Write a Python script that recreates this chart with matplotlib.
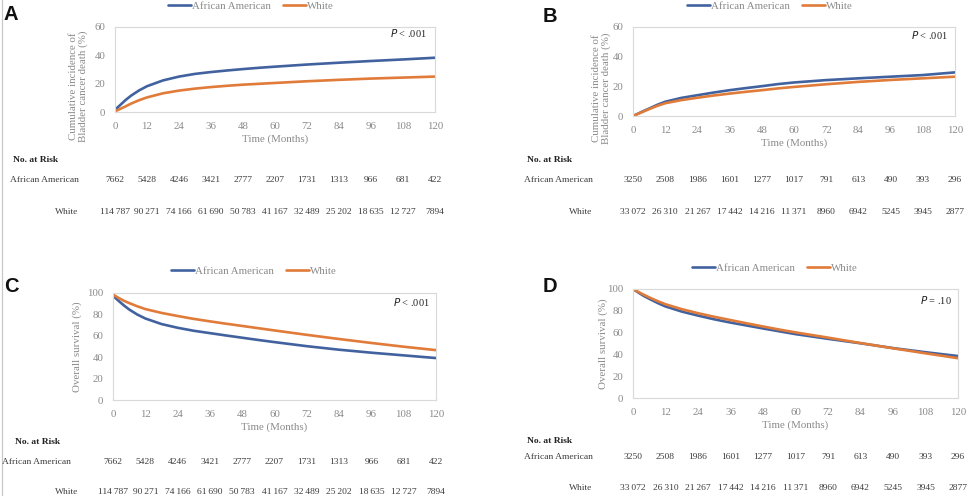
import matplotlib
matplotlib.use("Agg")
import matplotlib.pyplot as plt
from matplotlib.transforms import blended_transform_factory
from matplotlib.lines import Line2D

# ---------------- data ----------------
months = [0, 2, 4, 6, 9, 12, 18, 24, 30, 36, 42, 48, 54, 60, 72, 84, 96, 108, 120]

a_aa = [1.5, 5, 8.5, 11.5, 15.2, 18.2, 22.3, 25, 26.9, 28.2, 29.3, 30.3, 31.2, 32, 33.5, 34.8, 36, 37.1, 38.3]
a_wh = [0.5, 2.2, 4, 5.9, 8.3, 10.3, 13.2, 15.1, 16.5, 17.6, 18.5, 19.3, 19.9, 20.5, 21.7, 22.7, 23.6, 24.3, 25]

b_aa = [0, 1.7, 3.4, 5, 7.5, 9.6, 12.2, 14, 15.8, 17.4, 18.8, 20.1, 21.5, 22.6, 24.2, 25.4, 26.5, 27.6, 29.4]
b_wh = [0, 1.5, 3.1, 4.6, 6.8, 8.6, 10.7, 12.3, 13.8, 15.1, 16.3, 17.4, 18.6, 19.6, 21.4, 23, 24.3, 25.4, 26.5]

c_aa = [97.5, 92.8, 88.5, 84.6, 79.9, 76.2, 71, 67.5, 64.7, 62.5, 60.3, 58.2, 56.1, 54.1, 50.3, 47, 44.2, 41.7, 39.2]
c_wh = [98.5, 95.5, 92.8, 90.6, 87.6, 85, 81.4, 78.5, 75.8, 73.5, 71.3, 69.2, 67.1, 65, 60.9, 57, 53.3, 49.8, 46.6]

d_aa = [100, 96.7, 93.6, 91, 87.3, 84, 79.3, 75.6, 72.2, 69.2, 66.5, 63.8, 61.2, 58.6, 54.3, 50.2, 45.8, 42, 38.5]
d_wh = [100, 97.3, 94.7, 92.3, 89, 86, 81.5, 77.8, 74.5, 71.5, 68.5, 65.6, 62.8, 60.2, 55.4, 50.4, 45.6, 41, 36.5]

risk_months = [0, 12, 24, 36, 48, 60, 72, 84, 96, 108, 120]
risk_ac_aa = ["7662", "5428", "4246", "3421", "2777", "2207", "1731", "1313", "966", "681", "422"]
risk_ac_wh = ["114\u2009787", "90\u2009271", "74\u2009166", "61\u2009690", "50\u2009783", "41\u2009167",
              "32\u2009489", "25\u2009202", "18\u2009635", "12\u2009727", "7894"]
risk_bd_aa = ["3250", "2508", "1986", "1601", "1277", "1017", "791", "613", "490", "393", "296"]
risk_bd_wh = ["33\u2009072", "26\u2009310", "21\u2009267", "17\u2009442", "14\u2009216", "11\u2009371",
              "8960", "6942", "5245", "3945", "2877"]

series_names = ["African American", "White"]
p_texts = ["< .001", "< .001", "< .001", "= .10"]
panel_letters = ["A", "B", "C", "D"]
ylabel_cif = "Cumulative incidence of\nBladder cancer death (%)"
ylabel_os = "Overall survival (%)"
xlabel = "Time (Months)"

# ---------------- style ----------------
W, H = 967, 496
BLUE = "#41629F"
ORANGE = "#E07B39"
GRAY = "#8A8A8A"
DARK = "#3C3C3C"
SERIF = ["Liberation Serif", "DejaVu Serif"]
SANS = ["Liberation Sans", "DejaVu Sans"]

fig = plt.figure(figsize=(W / 100, H / 100), dpi=100)


def fx(x):
    return x / W


def fy(y):
    return 1 - y / H


def make_axes(left, right, top, bottom):
    return fig.add_axes([fx(left), fy(bottom), (right - left) / W, (bottom - top) / H])


panels = [
    dict(box=(115, 435, 27, 112), aa=a_aa, wh=a_wh, ymax=60, yt=[0, 20, 40, 60], ylabel=ylabel_cif,
         ylc=(-0.084, 0.30), ptx=(0.975, 0.93), letter=(4, 14), leg=(251, 6),
         risk=(risk_ac_aa, risk_ac_wh), nar=(13, 160), rows=(180, 212), lab_r=(79, 78)),
    dict(box=(633, 955, 27, 116), aa=b_aa, wh=b_wh, ymax=60, yt=[0, 20, 40, 60], ylabel=ylabel_cif,
         ylc=(-0.068, 0.31), ptx=(0.978, 0.91), letter=(543, 16), leg=(770, 6),
         risk=(risk_bd_aa, risk_bd_wh), nar=(527, 160), rows=(180, 212), lab_r=(593, 592)),
    dict(box=(113, 436, 293, 400), aa=c_aa, wh=c_wh, ymax=100, yt=[0, 20, 40, 60, 80, 100], ylabel=ylabel_os,
         ylc=(-0.096, 0.5), ptx=(0.981, 0.916), letter=(4, 286), leg=(254, 271),
         risk=(risk_ac_aa, risk_ac_wh), nar=(15, 442), rows=(462, 492), lab_r=(71, 78)),
    dict(box=(633, 958, 289, 398), aa=d_aa, wh=d_wh, ymax=100, yt=[0, 20, 40, 60, 80, 100], ylabel=ylabel_os,
         ylc=(-0.077, 0.5), ptx=(0.98, 0.90), letter=(543, 286), leg=(775, 268),
         risk=(risk_bd_aa, risk_bd_wh), nar=(527, 441), rows=(457, 488), lab_r=(593, 592)),
]

for i, p in enumerate(panels):
    ax = make_axes(*p["box"])
    l1, = ax.plot(months, p["aa"], color=BLUE, lw=1.9, solid_capstyle="round", solid_joinstyle="round")
    l2, = ax.plot(months, p["wh"], color=ORANGE, lw=1.9, solid_capstyle="round", solid_joinstyle="round")
    ax.set_xlim(0, 120)
    ax.set_ylim(0, p["ymax"])
    ax.set_xticks(risk_months)
    ax.set_yticks(p["yt"])
    for s in ax.spines.values():
        s.set_color("#D9D9D9")
        s.set_linewidth(0.8)
    ax.tick_params(length=0, labelsize=7.8, labelcolor=GRAY)
    ax.tick_params(axis="x", pad=7)
    ax.tick_params(axis="y", pad=7)
    for t in ax.get_xticklabels() + ax.get_yticklabels():
        t.set_fontfamily(SERIF)
    ax.set_xlabel(xlabel, fontsize=7.8, color=GRAY, family=SERIF, labelpad=2.5)
    ax.set_ylabel(p["ylabel"], fontsize=7.8, color=GRAY, family=SERIF, linespacing=1.1)
    ax.yaxis.set_label_coords(*p["ylc"])

    ax.text(p["ptx"][0], p["ptx"][1], r"$\it{P}$ " + p_texts[i], transform=ax.transAxes,
            ha="right", va="center", fontsize=7.5, family=SERIF, color="#222222")

    fig.text(fx(p["letter"][0]), fy(p["letter"][1]), panel_letters[i], fontsize=14.5,
             fontweight="bold", family=SANS, ha="left", va="center", color="#111111")

    fig.legend([l1, l2], series_names, loc="center", bbox_to_anchor=(fx(p["leg"][0]), fy(p["leg"][1])),
               ncol=2, frameon=False, handlelength=2.1, handletextpad=0.15, columnspacing=1.1,
               prop={"family": SERIF, "size": 7.8}, labelcolor=GRAY, borderpad=0, borderaxespad=0)

    # risk table
    fig.text(fx(p["nar"][0]), fy(p["nar"][1]), "No. at Risk", fontsize=6.8, fontweight="bold",
             family=SERIF, ha="left", va="center", color="#222222")
    fig.text(fx(p["lab_r"][0]), fy(p["rows"][0]), series_names[0], fontsize=6.8, family=SERIF,
             ha="right", va="center", color=DARK)
    fig.text(fx(p["lab_r"][1]), fy(p["rows"][1]), series_names[1], fontsize=6.8, family=SERIF,
             ha="right", va="center", color=DARK)
    tr = blended_transform_factory(ax.transData, fig.transFigure)
    for m, va, vw in zip(risk_months, p["risk"][0], p["risk"][1]):
        ax.text(m, fy(p["rows"][0]), va, transform=tr, fontsize=6.8, family=SERIF,
                ha="center", va="center", color=DARK, clip_on=False)
        ax.text(m, fy(p["rows"][1]), vw, transform=tr, fontsize=6.8, family=SERIF,
                ha="center", va="center", color=DARK, clip_on=False)

# thin gray line at left edge
fig.add_artist(Line2D([fx(1.5), fx(1.5)], [0, 1], transform=fig.transFigure, color="#C8C8C8", lw=0.9))

fig.savefig("out.png", dpi=100)
